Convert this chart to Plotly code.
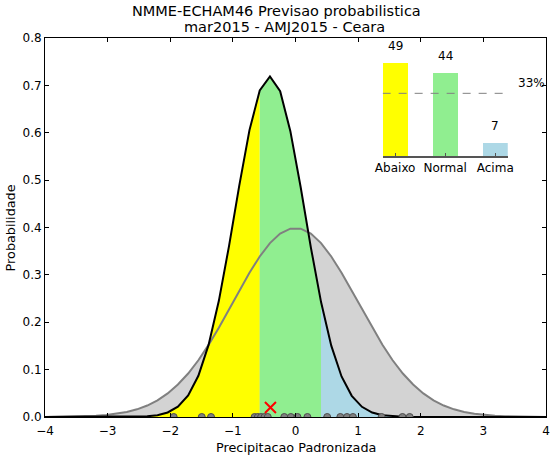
import plotly.graph_objects as go

# ---- data ----
x_grid = [-4.0, -3.837, -3.673, -3.51, -3.347, -3.184, -3.02, -2.857, -2.694, -2.531,
          -2.367, -2.204, -2.041, -1.878, -1.714, -1.551, -1.388, -1.224, -1.061, -0.898,
          -0.735, -0.571, -0.408, -0.245, -0.082, 0.082, 0.245, 0.408, 0.571, 0.735,
          0.898, 1.061, 1.224, 1.388, 1.551, 1.714, 1.878, 2.041, 2.204, 2.367,
          2.531, 2.694, 2.857, 3.02, 3.184, 3.347, 3.51, 3.673, 3.837, 4.0]

clim_pdf = [0.0001, 0.0003, 0.0005, 0.0008, 0.0015, 0.0025, 0.0042, 0.0067, 0.0106, 0.0162,
            0.0242, 0.0352, 0.0497, 0.0685, 0.0918, 0.1198, 0.1523, 0.1885, 0.2272, 0.2666,
            0.3046, 0.3389, 0.3671, 0.3872, 0.3976, 0.3976, 0.3872, 0.3671, 0.3389, 0.3046,
            0.2666, 0.2272, 0.1885, 0.1523, 0.1198, 0.0918, 0.0685, 0.0497, 0.0352, 0.0242,
            0.0162, 0.0106, 0.0067, 0.0042, 0.0025, 0.0015, 0.0008, 0.0005, 0.0003, 0.0001]

fcst_pdf = [0.0, 0.0, 0.0, 0.0, 0.0, 0.0, 0.0, 0.0, 0.0001, 0.0005,
            0.0014, 0.0039, 0.0096, 0.0218, 0.0455, 0.0869, 0.1522, 0.2452, 0.3613, 0.4884,
            0.6056, 0.6892, 0.7188, 0.6877, 0.6034, 0.4856, 0.3582, 0.2426, 0.1507, 0.0856,
            0.0447, 0.0215, 0.0094, 0.0038, 0.0014, 0.0005, 0.0001, 0.0, 0.0, 0.0,
            0.0, 0.0, 0.0, 0.0, 0.0, 0.0, 0.0, 0.0, 0.0, 0.0]

members = [-1.945, -1.497, -1.349, -0.653, -0.601, -0.549, -0.495, -0.443, -0.179, -0.074,
           0.032, 0.19, 0.506, 0.716, 0.822, 0.917, 1.375, 1.708, 1.823]

mean_mark_x = [-0.40]
mean_mark_y = [0.02]

cat_labels = ["Abaixo", "Normal", "Acima"]
cat_probs = [49, 44, 7]
clim_line = 33

x_ticks = [-4, -3, -2, -1, 0, 1, 2, 3, 4]
y_ticks = [0.0, 0.1, 0.2, 0.3, 0.4, 0.5, 0.6, 0.7, 0.8]

# index boundaries of the coloured tercile fills
i_low, i_high = 21, 27

YELLOW = "#ffff00"
GREEN = "#90ee90"
BLUE = "#add8e6"
FONT = "DejaVu Sans"

fig = go.Figure()

# climatology fill
fig.add_trace(go.Scatter(x=x_grid, y=clim_pdf, mode="lines", line=dict(width=0),
                         fill="tozeroy", fillcolor="#d3d3d3", hoverinfo="skip"))
# tercile fills under forecast pdf
for a, b, col in [(0, i_low, YELLOW), (i_low, i_high, GREEN), (i_high, len(x_grid) - 1, BLUE)]:
    fig.add_trace(go.Scatter(x=x_grid[a:b + 1], y=fcst_pdf[a:b + 1], mode="lines",
                             line=dict(width=0), fill="tozeroy", fillcolor=col,
                             hoverinfo="skip"))
# lines
fig.add_trace(go.Scatter(x=x_grid, y=clim_pdf, mode="lines",
                         line=dict(color="#808080", width=2)))
fig.add_trace(go.Scatter(x=x_grid, y=fcst_pdf, mode="lines",
                         line=dict(color="black", width=2)))
# ensemble members
fig.add_trace(go.Scatter(x=members, y=[0] * len(members), mode="markers",
                         marker=dict(size=7, color="#808080",
                                     line=dict(color="#4d4d4d", width=1))))
# mean marker
fig.add_trace(go.Scatter(x=mean_mark_x, y=mean_mark_y, mode="markers",
                         marker=dict(symbol="x-thin", size=11,
                                     line=dict(color="red", width=2))))

# inset bars
fig.add_trace(go.Bar(x=[0, 1, 2], y=cat_probs, width=0.5,
                     marker=dict(color=[YELLOW, GREEN, BLUE], line=dict(width=0)),
                     xaxis="x2", yaxis="y2"))
fig.add_trace(go.Scatter(x=[-0.25, 2.25], y=[clim_line, clim_line], mode="lines",
                         line=dict(color="#808080", width=1, dash="8px,8px"),
                         xaxis="x2", yaxis="y2"))

W, H = 560, 456
L, R, T, B = 45, 8, 38, 39
pw, ph = W - L - R, H - T - B


def px(xp):
    return (xp - L) / pw


def py(yp):
    return (H - B - yp) / ph


annotations = []
for i, v in enumerate(cat_probs):
    annotations.append(dict(x=i, y=v + 8.7, xref="x2", yref="y2", text=str(v),
                            showarrow=False, yanchor="middle",
                            font=dict(family=FONT, size=12, color="black")))
annotations.append(dict(x=px(521.5), y=py(83), xref="paper", yref="paper",
                        text=f"{clim_line}%", showarrow=False, xanchor="left",
                        yanchor="middle", font=dict(family=FONT, size=12, color="black")))
annotations.append(dict(x=px(279), y=py(11), xref="paper", yref="paper",
                        text="NMME-ECHAM46 Previsao probabilistica", showarrow=False,
                        yanchor="middle", font=dict(family=FONT, size=14.5, color="black")))
annotations.append(dict(x=px(287), y=py(27), xref="paper", yref="paper",
                        text="mar2015 - AMJ2015 - Ceara", showarrow=False,
                        yanchor="middle", font=dict(family=FONT, size=14.5, color="black")))
annotations.append(dict(x=0.5, y=py(447), xref="paper", yref="paper",
                        text="Precipitacao Padronizada", showarrow=False,
                        yanchor="middle", font=dict(family=FONT, size=12.8, color="black")))
annotations.append(dict(x=px(10.5), y=0.5, xref="paper", yref="paper",
                        text="Probabilidade", showarrow=False, textangle=-90,
                        xanchor="center", yanchor="middle",
                        font=dict(family=FONT, size=12.8, color="black")))

inset_x0, inset_x1 = px(386.7), px(513.3)
inset_y0 = py(156)
inset_y1 = py(156 - 58 * 1.8995)

fig.update_layout(
    width=W, height=H,
    margin=dict(l=L, r=R, t=T, b=B, pad=0),
    paper_bgcolor="white", plot_bgcolor="white",
    showlegend=False,
    font=dict(family=FONT, size=12, color="black"),
    xaxis=dict(range=[-4, 4], tickvals=x_ticks, ticks="inside", ticklen=4,
               tickcolor="black", showline=True, linecolor="black", linewidth=1,
               mirror="ticks", showgrid=False, zeroline=False, ticklabelstandoff=3,
               tickfont=dict(family=FONT, size=12, color="black")),
    yaxis=dict(range=[0, 0.8], tickvals=y_ticks, tickformat=".1f", ticks="inside",
               ticklen=4, tickcolor="black", showline=True, linecolor="black",
               linewidth=1, mirror="ticks", showgrid=False, zeroline=False,
               tickfont=dict(family=FONT, size=12, color="black")),
    xaxis2=dict(domain=[inset_x0, inset_x1], anchor="y2", range=[-0.25, 2.25],
                tickvals=[0, 1, 2], ticktext=cat_labels, ticks="inside", ticklen=3,
                tickcolor="#555555", showline=True, linecolor="#555555", linewidth=2,
                showgrid=False, zeroline=False,
                tickfont=dict(family=FONT, size=12, color="black")),
    yaxis2=dict(domain=[inset_y0, inset_y1], anchor="x2", range=[0, 58], visible=False),
    annotations=annotations,
    bargap=0,
)

fig.write_html("out.html")
